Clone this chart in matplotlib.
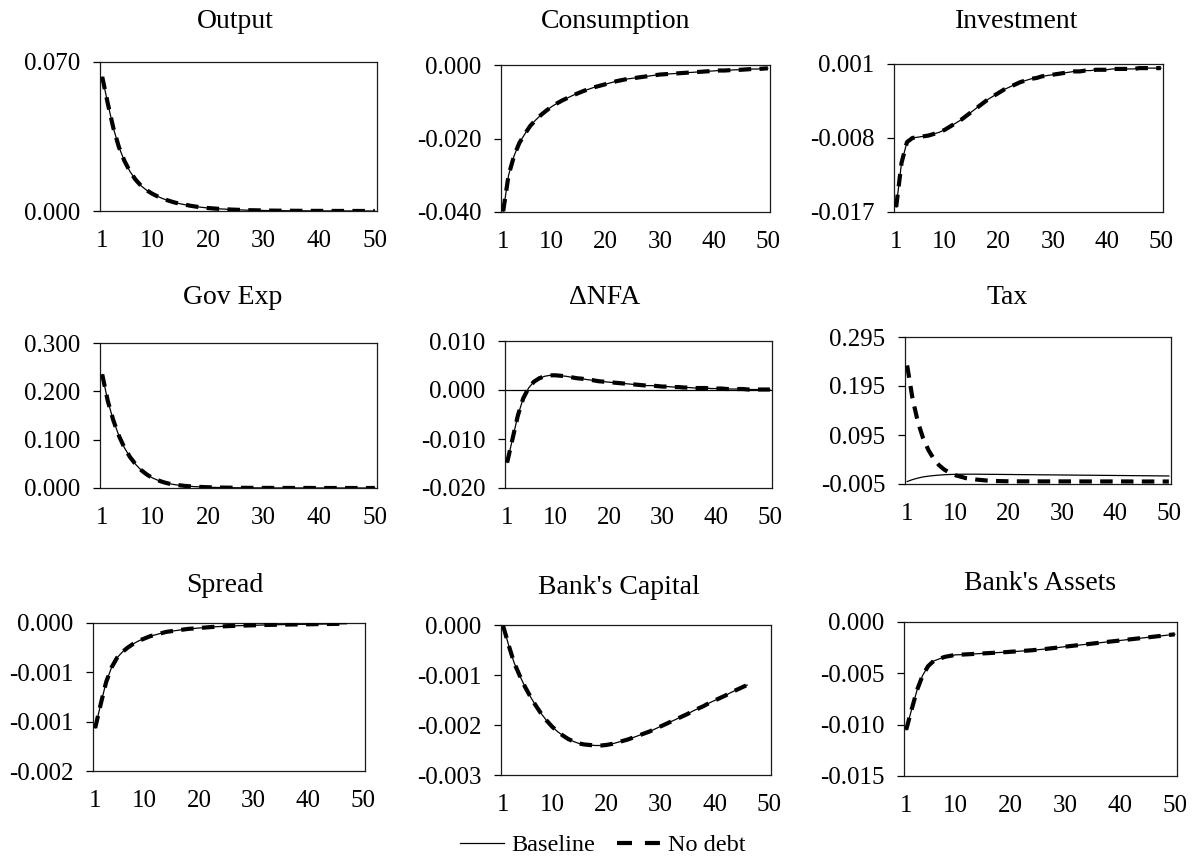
import matplotlib
matplotlib.use("Agg")
import matplotlib.pyplot as plt
from matplotlib.lines import Line2D

plt.rcParams["font.family"] = ["Liberation Serif", "DejaVu Serif"]

W, H = 1196, 860

# impulse responses, periods 1..50 (Baseline and No debt coincide except for Tax)
output = [0.0630, 0.0505, 0.0390, 0.0300, 0.0235, 0.0185, 0.0147, 0.0118, 0.0097, 0.0081,
          0.0068, 0.0057, 0.0048, 0.0040, 0.0034, 0.0029, 0.0024, 0.0020, 0.0017, 0.0014,
          0.0012, 0.0010, 0.0009, 0.0007, 0.0006, 0.0005, 0.0004, 0.00035, 0.0003, 0.00025,
          0.0002, 0.00018, 0.00015, 0.00013, 0.00011, 0.0001, 0.00008, 0.00007, 0.00006, 0.00005,
          0.00004, 0.00004, 0.00003, 0.00003, 0.00002, 0.00002, 0.00002, 0.00001, 0.00001, 0.00001]

consumption = [-0.0398, -0.0300, -0.0248, -0.0212, -0.0188, -0.0166, -0.0150, -0.0136, -0.0124, -0.0113,
               -0.0104, -0.0096, -0.0089, -0.0082, -0.0076, -0.0070, -0.0065, -0.0060, -0.0056, -0.0052,
               -0.0048, -0.0044, -0.0041, -0.0038, -0.0036, -0.0034, -0.0032, -0.0030, -0.0028, -0.0026,
               -0.0025, -0.0024, -0.0023, -0.0022, -0.0021, -0.0020, -0.0019, -0.0018, -0.0017, -0.0016,
               -0.0015, -0.0015, -0.0014, -0.0013, -0.0013, -0.0012, -0.0011, -0.0011, -0.0010, -0.0009]

investment = [-0.0164, -0.0110, -0.0085, -0.0080, -0.0079, -0.0078, -0.0077, -0.0075, -0.0073, -0.0070,
              -0.0066, -0.0062, -0.0058, -0.0053, -0.0048, -0.0043, -0.0038, -0.0033, -0.0029, -0.0025,
              -0.0021, -0.0018, -0.0015, -0.0012, -0.0010, -0.0008, -0.0007, -0.0005, -0.0004, -0.0003,
              -0.0002, -0.0001, 0.0000, 0.0001, 0.0001, 0.0002, 0.0002, 0.0003, 0.0003, 0.0003,
              0.0004, 0.0004, 0.0004, 0.0004, 0.0004, 0.0005, 0.0005, 0.0005, 0.0005, 0.0005]

gov_exp = [0.235, 0.180, 0.140, 0.108, 0.083, 0.064, 0.049, 0.037, 0.028, 0.021,
           0.016, 0.012, 0.009, 0.007, 0.0055, 0.0042, 0.0033, 0.0026, 0.0020, 0.0016,
           0.0013, 0.0010, 0.0008, 0.0006, 0.0005, 0.0004, 0.0003, 0.0003, 0.0002, 0.0002,
           0.0002, 0.0001, 0.0001, 0.0001, 0.0001, 0.0001, 0.0001, 0.0001, 0.0, 0.0,
           0.0, 0.0, 0.0, 0.0, 0.0, 0.0, 0.0, 0.0, 0.0, 0.0]

d_nfa = [-0.0148, -0.0100, -0.0052, -0.0017, 0.0004, 0.0017, 0.0024, 0.0028, 0.0030, 0.0030,
         0.0029, 0.0028, 0.0026, 0.0024, 0.0023, 0.0021, 0.0020, 0.0018, 0.0017, 0.0016,
         0.0015, 0.0014, 0.0013, 0.0012, 0.0011, 0.0010, 0.0009, 0.0009, 0.0008, 0.0007,
         0.0007, 0.0006, 0.0006, 0.0005, 0.0005, 0.0004, 0.0004, 0.0004, 0.0003, 0.0003,
         0.0003, 0.0002, 0.0002, 0.0002, 0.0002, 0.0001, 0.0001, 0.0001, 0.0001, 0.0001]

tax_base = [0.0000, 0.0040, 0.0070, 0.0095, 0.0110, 0.0122, 0.0132, 0.0139, 0.0144, 0.0147,
            0.0149, 0.0150, 0.0150, 0.0150, 0.0149, 0.0148, 0.0147, 0.0146, 0.0145, 0.0144,
            0.0143, 0.0142, 0.0141, 0.0140, 0.0139, 0.0138, 0.0137, 0.0136, 0.0135, 0.0134,
            0.0133, 0.0132, 0.0131, 0.0130, 0.0129, 0.0128, 0.0127, 0.0126, 0.0125, 0.0124,
            0.0123, 0.0122, 0.0121, 0.0120, 0.0119, 0.0118, 0.0117, 0.0116, 0.0115, 0.0114]

tax_nodebt = [0.237, 0.170, 0.122, 0.088, 0.064, 0.046, 0.033, 0.024, 0.018, 0.013,
              0.010, 0.007, 0.0055, 0.0040, 0.0030, 0.0020, 0.0015, 0.0010, 0.0007, 0.0005,
              0.0004, 0.0004, 0.0004, 0.0004, 0.0004, 0.0003, 0.0003, 0.0003, 0.0003, 0.0003,
              0.0003, 0.0003, 0.0003, 0.0002, 0.0002, 0.0002, 0.0002, 0.0002, 0.0002, 0.0002,
              0.0002, 0.0002, 0.0001, 0.0001, 0.0001, 0.0001, 0.0001, 0.0001, 0.0001, 0.0001]

spread = [-0.00142, -0.00110, -0.00080, -0.00060, -0.00047, -0.00039, -0.00033, -0.00028, -0.00024, -0.00021,
          -0.00018, -0.00016, -0.00014, -0.00012, -0.00011, -0.00010, -0.00009, -0.00008, -0.000074, -0.000068,
          -0.000062, -0.000056, -0.000051, -0.000047, -0.000043, -0.000040, -0.000037, -0.000035, -0.000033, -0.000031,
          -0.000029, -0.000027, -0.000025, -0.000024, -0.000022, -0.000021, -0.000020, -0.000019, -0.000018, -0.000017,
          -0.000016, -0.000015, -0.000014, -0.000013, -0.000012, -0.000011, -0.000010]

bank_capital = [-0.00002, -0.00040, -0.00075, -0.00100, -0.00123, -0.00143, -0.00161, -0.00177, -0.00191, -0.00203,
                -0.00213, -0.00221, -0.00228, -0.00233, -0.00237, -0.00239, -0.00240, -0.00241, -0.00241, -0.00240,
                -0.00238, -0.00235, -0.00232, -0.00229, -0.00225, -0.00221, -0.00217, -0.00213, -0.00208, -0.00203,
                -0.00198, -0.00193, -0.00188, -0.00183, -0.00178, -0.00172, -0.00167, -0.00162, -0.00156, -0.00151,
                -0.00146, -0.00141, -0.00135, -0.00130, -0.00125, -0.00120]

bank_assets = [-0.0105, -0.0085, -0.0066, -0.0052, -0.0043, -0.0038, -0.0036, -0.0034, -0.0033, -0.0032,
               -0.00318, -0.00315, -0.00312, -0.00309, -0.00306, -0.00303, -0.00300, -0.00297, -0.00294, -0.00290,
               -0.00287, -0.00283, -0.00279, -0.00275, -0.00270, -0.00265, -0.00259, -0.00253, -0.00247, -0.00240,
               -0.00234, -0.00228, -0.00222, -0.00216, -0.00210, -0.00204, -0.00198, -0.00192, -0.00186, -0.00180,
               -0.00174, -0.00168, -0.00162, -0.00156, -0.00150, -0.00144, -0.00138, -0.00132, -0.00126, -0.00120]

titles = ["Output", "Consumption", "Investment",
          "Gov Exp", "\u0394NFA", "Tax",
          "Spread", "Bank's Capital", "Bank's Assets"]

baseline = [output, consumption, investment, gov_exp, d_nfa, tax_base,
            spread, bank_capital, bank_assets]
no_debt = [output, consumption, investment, gov_exp, d_nfa, tax_nodebt,
           spread, bank_capital, bank_assets]

yticks = [
    [0.000, 0.070],
    [-0.040, -0.020, 0.000],
    [-0.017, -0.008, 0.001],
    [0.000, 0.100, 0.200, 0.300],
    [-0.020, -0.010, 0.000, 0.010],
    [-0.005, 0.095, 0.195, 0.295],
    [-0.002, -0.001333, -0.000667, 0.000],
    [-0.003, -0.002, -0.001, 0.000],
    [-0.015, -0.010, -0.005, 0.000],
]
xticks = [1, 10, 20, 30, 40, 50]

# plot areas in pixels: left, top, right, bottom
boxes = [
    (100, 62, 377, 211), (501, 65, 770, 212), (894, 64, 1163, 212),
    (100, 343, 377, 488), (505, 341, 772, 488), (905, 337, 1171, 484),
    (93, 623, 365, 771), (501, 625, 771, 775), (904, 622, 1177, 776),
]
# title centres in pixels
title_pos = [
    (235, 22), (616, 22), (1017, 22),
    (233, 298), (605, 298), (1007, 298),
    (225, 585), (619, 587), (1040, 583),
]

fig = plt.figure(figsize=(W / 100, H / 100), dpi=100)

for i in range(9):
    l, t, r, b = boxes[i]
    ax = fig.add_axes([l / W, 1 - b / H, (r - l) / W, (b - t) / H])
    base = baseline[i]
    nd = no_debt[i]
    ax.plot(range(1, len(base) + 1), base, color="black", lw=0.9, zorder=3)
    ax.plot(range(1, len(nd) + 1), nd, color="black", lw=3.0,
            linestyle=(0, (3, 2)), zorder=4)
    if i == 4:
        ax.axhline(0, color="black", lw=0.9, zorder=2)

    ax.set_xlim(0.6, 50.4)
    ax.set_ylim(yticks[i][0], yticks[i][-1])
    ax.set_xticks(xticks)
    ax.set_yticks(yticks[i])
    ax.set_yticklabels([f"{v:.3f}".replace("-0.000", "0.000") for v in yticks[i]])
    ax.tick_params(axis="x", length=0, pad=13.5, labelsize=18)
    ax.tick_params(axis="y", length=5, width=0.9, direction="out", pad=9, labelsize=18)
    for s in ax.spines.values():
        s.set_linewidth(0.9)
        s.set_color("#1a1a1a")

    tx, ty = title_pos[i]
    fig.text(tx / W, 1 - ty / H, titles[i], ha="center", va="center", fontsize=20)

handles = [
    Line2D([], [], color="black", lw=0.9),
    Line2D([], [], color="black", lw=3.0, linestyle=(0, (3.6, 3.1))),
]
fig.legend(handles, ["Baseline", "No debt"], loc="center", ncol=2,
           bbox_to_anchor=(603 / W, 1 - 845 / H), frameon=False, fontsize=17.5,
           handlelength=1.8, handletextpad=0.3, columnspacing=0.9)

fig.savefig("out.png", dpi=100)
